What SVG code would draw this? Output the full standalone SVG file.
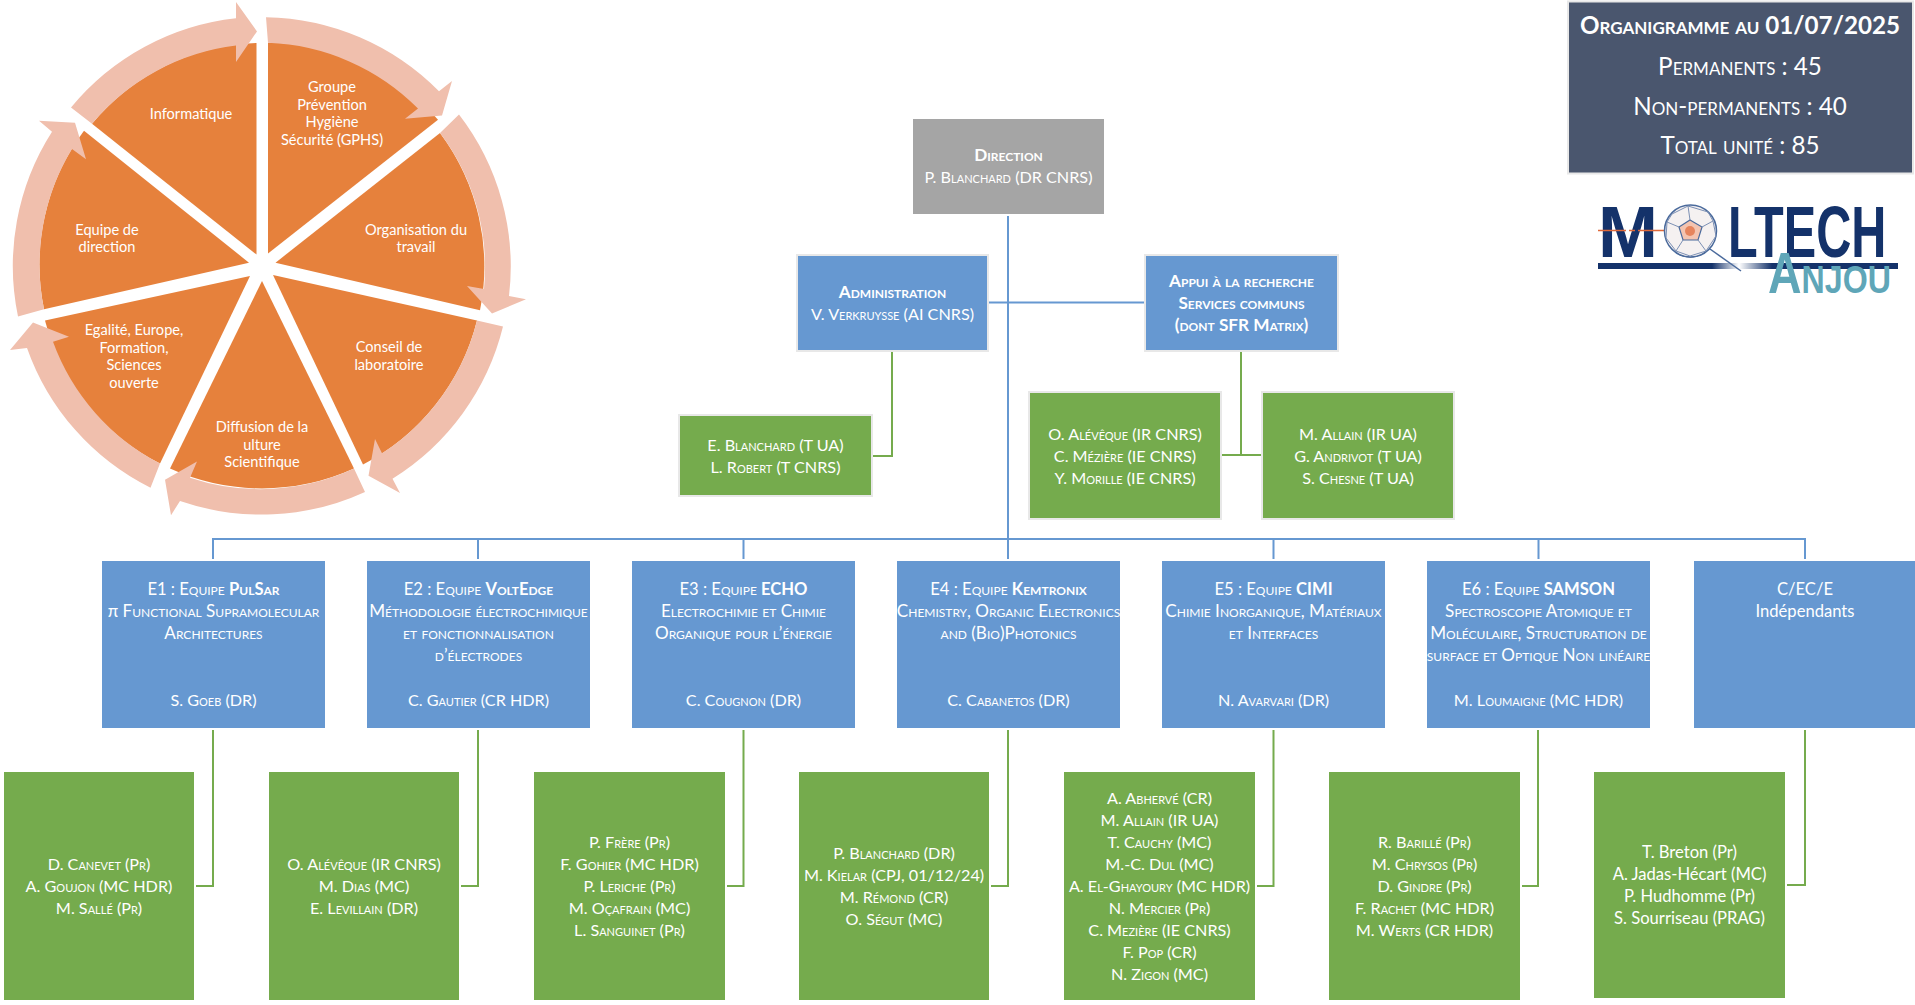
<svg xmlns="http://www.w3.org/2000/svg" width="1915" height="1005" viewBox="0 0 1915 1005">
<defs>
<linearGradient id="bar" x1="0" x2="1" y1="0" y2="0"><stop offset="0" stop-color="#14326a"/><stop offset="0.38" stop-color="#14326a"/><stop offset="0.47" stop-color="#ffffff"/><stop offset="0.58" stop-color="#14326a"/><stop offset="1" stop-color="#14326a"/></linearGradient>
</defs>
<style>
text{font-family:"Lato","Carlito","Open Sans",sans-serif;fill:#fff;text-anchor:middle}
.sc{font-size:16.2px;font-variant:small-caps}
.d{font-size:17.1px}
.h{font-size:16.6px}
.n{font-size:16.6px}
.b{font-weight:700}
.hb{font-weight:700;font-size:17.2px}
.w{font-size:14.6px}
.ring{fill:#f0bfad}
.wedge{fill:#e6813c}
.blue{fill:#6698d1}
.green{fill:#75ab4d}
.bl{stroke:#e8e8e8;stroke-width:2}
.cb{fill:none;stroke:#6698d1;stroke-width:2}
.cg{fill:none;stroke:#75ab4d;stroke-width:2}
.t{font-variant:small-caps;font-size:24.2px}
.lg{font-family:"Liberation Sans",sans-serif;font-weight:700;font-size:72px;fill:#14326a;text-anchor:start}
</style>
<g id="wheel">
<path class="wedge" d="M268 253.500V42.800A223 223 0 0 1 438 119.700Z"/>
<path class="wedge" d="M275.500 262.700L440 132.900A223 223 0 0 1 480 310.300Z"/>
<path class="wedge" d="M273 274.900L477 320.500A223 223 0 0 1 363 464.500Z"/>
<path class="wedge" d="M262 280.900L354 468.600A223 223 0 0 1 170 468.600Z"/>
<path class="wedge" d="M250 275.900L160 463.500A223 223 0 0 1 45 320.500Z"/>
<path class="wedge" d="M249 262.700L44 309.300A223 223 0 0 1 84 130.800Z"/>
<path class="wedge" d="M256.500 254.600L92 123.700A223 223 0 0 1 256.500 43Z"/>
<path class="ring" d="M266 17.200A249 249 0 0 1 439 91.300L452 81.100L442 115.600L405 118.700L418 108.500A223 223 0 0 0 268 42.800Z"/>
<path class="ring" d="M459 114.600A249 249 0 0 1 509 296.100L526 299.200L492 313.400L467 286L484 289A223 223 0 0 0 440 132.900Z"/>
<path class="ring" d="M503 326.600A249 249 0 0 1 392.500 478.700L400 492.900L368.500 475.700L375 439.100L382 453.300A223 223 0 0 0 477 320.500Z"/>
<path class="ring" d="M365 491.900A249 249 0 0 1 180 501L171 515.200L165 479.700L197 461.500L190 477.700A223 223 0 0 0 354 468.600Z"/>
<path class="ring" d="M150.500 487.800A249 249 0 0 1 27 347.900L10 349.900L33 322.500L69 336.700L53 341.800A223 223 0 0 0 160 463.500Z"/>
<path class="ring" d="M18 316.400A249 249 0 0 1 52 131.800L39 120.700L75 122.700L86 159.200L72 149.100A223 223 0 0 0 44 309.300Z"/>
<path class="ring" d="M71 107.500A249 249 0 0 1 236 18.300V2L257 31.400L236 61.900V45.600A223 223 0 0 0 92 123.700Z"/>
<text class="w" x="191" y="119">Informatique</text>
<text class="w"><tspan x="332" y="92">Groupe</tspan><tspan x="332" y="109.500">Prévention</tspan><tspan x="332" y="127">Hygiène</tspan><tspan x="332" y="144.500">Sécurité (GPHS)</tspan></text>
<text class="w"><tspan x="416" y="234.500">Organisation du</tspan><tspan x="416" y="252">travail</tspan></text>
<text class="w"><tspan x="389" y="352">Conseil de</tspan><tspan x="389" y="370">laboratoire</tspan></text>
<text class="w"><tspan x="262" y="432">Diffusion de la</tspan><tspan x="262" y="449.500">ulture</tspan><tspan x="262" y="467">Scientifique</tspan></text>
<text class="w"><tspan x="134" y="335">Egalité, Europe,</tspan><tspan x="134" y="352.500">Formation,</tspan><tspan x="134" y="370">Sciences</tspan><tspan x="134" y="387.500">ouverte</tspan></text>
<text class="w"><tspan x="107" y="234.500">Equipe de</tspan><tspan x="107" y="252">direction</tspan></text>
</g>
<g id="connectors">
<path class="cb" d="M1008 216V559"/>
<path class="cb" d="M989 302.500H1144"/>
<path class="cb" d="M213 559V539H1805V559M478 539V559M743.500 539V559M1273.500 539V559M1538.500 539V559"/>
<path class="cg" d="M892 352V456H873"/>
<path class="cg" d="M1241 352V455M1222 455H1261"/>
<path class="cg" d="M213 730V886H196"/>
<path class="cg" d="M478 730V886H461"/>
<path class="cg" d="M743.500 730V886H727"/>
<path class="cg" d="M1008 730V886H991"/>
<path class="cg" d="M1273.500 730V886H1257"/>
<path class="cg" d="M1538 730V886H1522"/>
<path class="cg" d="M1805 730V885H1787"/>
</g>
<g id="summary">
<rect x="1568" y="1.500" width="345" height="172" fill="#4a566e" class="bl"/>
<text class="t b" x="1740" y="34">Organigramme au 01/07/2025</text>
<text class="t" x="1740" y="75">Permanents : 45</text>
<text class="t" x="1740" y="115">Non-permanents : 40</text>
<text class="t" x="1740" y="154">Total unité : 85</text>
</g>
<g id="logo">
<text class="lg" transform="translate(1598 257)">M</text>
<text class="lg" transform="translate(1665 257) scale(.91 1)">O</text>
<text class="lg" transform="translate(1728 257) scale(.675 1)">LTECH</text>
<path d="M1598 230.500H1676" stroke="#e0693a" stroke-width="1.500" stroke-dasharray="28 3 6 3"/>
<circle cx="1690.500" cy="231" r="26" fill="#f5f1f1" stroke="#4a6a9c" stroke-width="1.500"/>
<path d="M1690 220L1702 227L1698 240L1683 240L1679 227Z" fill="#f4c4b0" stroke="#4a6a9c" stroke-width="1.200"/>
<path d="M1690 220L1688 206M1702 227L1713 221M1698 240L1706 251M1683 240L1676 251M1679 227L1667 222M1688 206L1672 214L1667 222M1688 206L1708 212L1713 221M1713 221L1716 236L1706 251M1706 251L1690 256L1676 251M1676 251L1666 238L1667 222" fill="none" stroke="#7c90b4" stroke-width="1"/>
<circle cx="1690" cy="231" r="5" fill="#e0693a" opacity=".7"/>
<rect x="1598" y="263" width="300" height="6" fill="url(#bar)"/>
<path d="M1710 249L1741 271" stroke="#4a6a9c" stroke-width="1.500"/>
<text transform="translate(1768 293) scale(.815 1)" style="font-family:'Liberation Sans',sans-serif;font-weight:700;font-size:57px;font-variant:small-caps;fill:#5fa6b8;text-anchor:start">Anjou</text>
</g>
<g id="direction"><rect x="913" y="119" width="191" height="95" fill="#a5a5a5"/>
<text class="sc"><tspan class="hb" x="1008.500" y="161">Direction</tspan><tspan x="1008.500" y="183">P. Blanchard (DR CNRS)</tspan></text></g>
<g id="administration"><rect class="blue bl" x="797" y="255" width="191" height="96"/>
<text class="sc"><tspan class="hb" x="892.500" y="298">Administration</tspan><tspan x="892.500" y="320">V. Verkruysse (AI CNRS)</tspan></text></g>
<g id="appui"><rect class="blue bl" x="1145" y="255" width="193" height="96"/>
<text class="sc hb"><tspan x="1241.500" y="287">Appui à la recherche</tspan><tspan x="1241.500" y="309">Services communs</tspan><tspan x="1241.500" y="331">(dont SFR Matrix)</tspan></text></g>
<g id="admin-staff"><rect class="green bl" x="679" y="415" width="193" height="81"/>
<text class="sc"><tspan x="775.500" y="451">E. Blanchard (T UA)</tspan><tspan x="775.500" y="473">L. Robert (T CNRS)</tspan></text></g>
<g id="appui-staff-1"><rect class="green bl" x="1029" y="392" width="192" height="127"/>
<text class="sc"><tspan x="1125" y="440">O. Alévêque (IR CNRS)</tspan><tspan x="1125" y="462">C. Mézière (IE CNRS)</tspan><tspan x="1125" y="484">Y. Morille (IE CNRS)</tspan></text></g>
<g id="appui-staff-2"><rect class="green bl" x="1262" y="392" width="192" height="127"/>
<text class="sc"><tspan x="1358" y="440">M. Allain (IR UA)</tspan><tspan x="1358" y="462">G. Andrivot (T UA)</tspan><tspan x="1358" y="484">S. Chesne (T UA)</tspan></text></g>
<g id="e1"><rect class="blue" x="102" y="561" width="223" height="167"/>
<text class="sc"><tspan class="h" x="213.500" y="595">E1 : Equipe <tspan class="b">PulSar</tspan></tspan><tspan class="d" x="213.500" y="617"><tspan style="font-variant:normal">π</tspan> Functional Supramolecular</tspan><tspan class="d" x="213.500" y="639">Architectures</tspan><tspan x="213.500" y="706">S. Goeb (DR)</tspan></text></g>
<g id="e2"><rect class="blue" x="367" y="561" width="223" height="167"/>
<text class="sc"><tspan class="h" x="478.500" y="595">E2 : Equipe <tspan class="b">VoltEdge</tspan></tspan><tspan class="d" x="478.500" y="617">Méthodologie électrochimique</tspan><tspan class="d" x="478.500" y="639">et fonctionnalisation</tspan><tspan class="d" x="478.500" y="661">d’électrodes</tspan><tspan x="478.500" y="706">C. Gautier (CR HDR)</tspan></text></g>
<g id="e3"><rect class="blue" x="632" y="561" width="223" height="167"/>
<text class="sc"><tspan class="h" x="743.500" y="595">E3 : Equipe <tspan class="b">ECHO</tspan></tspan><tspan class="d" x="743.500" y="617">Electrochimie et Chimie</tspan><tspan class="d" x="743.500" y="639">Organique pour l’énergie</tspan><tspan x="743.500" y="706">C. Cougnon (DR)</tspan></text></g>
<g id="e4"><rect class="blue" x="897" y="561" width="223" height="167"/>
<text class="sc"><tspan class="h" x="1008.500" y="595">E4 : Equipe <tspan class="b">Kemtronix</tspan></tspan><tspan class="d" x="1008.500" y="617">Chemistry, Organic Electronics</tspan><tspan class="d" x="1008.500" y="639">and (Bio)Photonics</tspan><tspan x="1008.500" y="706">C. Cabanetos (DR)</tspan></text></g>
<g id="e5"><rect class="blue" x="1162" y="561" width="223" height="167"/>
<text class="sc"><tspan class="h" x="1273.500" y="595">E5 : Equipe <tspan class="b">CIMI</tspan></tspan><tspan class="d" x="1273.500" y="617">Chimie Inorganique, Matériaux</tspan><tspan class="d" x="1273.500" y="639">et Interfaces</tspan><tspan x="1273.500" y="706">N. Avarvari (DR)</tspan></text></g>
<g id="e6"><rect class="blue" x="1427" y="561" width="223" height="167"/>
<text class="sc"><tspan class="h" x="1538.500" y="595">E6 : Equipe <tspan class="b">SAMSON</tspan></tspan><tspan class="d" x="1538.500" y="617">Spectroscopie Atomique et</tspan><tspan class="d" x="1538.500" y="639">Moléculaire, Structuration de</tspan><tspan class="d" x="1538.500" y="661">surface et Optique Non linéaire</tspan><tspan x="1538.500" y="706">M. Loumaigne (MC HDR)</tspan></text></g>
<g id="cece"><rect class="blue" x="1694" y="561" width="221" height="167"/>
<text class="n"><tspan x="1805" y="595">C/EC/E</tspan><tspan x="1805" y="617">Indépendants</tspan></text></g>
<g id="e1-staff"><rect class="green" x="4" y="772" width="190" height="228"/>
<text class="sc"><tspan x="99" y="870">D. Canevet (Pr)</tspan><tspan x="99" y="892">A. Goujon (MC HDR)</tspan><tspan x="99" y="914">M. Sallé (Pr)</tspan></text></g>
<g id="e2-staff"><rect class="green" x="269" y="772" width="190" height="228"/>
<text class="sc"><tspan x="364" y="870">O. Alévêque (IR CNRS)</tspan><tspan x="364" y="892">M. Dias (MC)</tspan><tspan x="364" y="914">E. Levillain (DR)</tspan></text></g>
<g id="e3-staff"><rect class="green" x="534" y="772" width="191" height="228"/>
<text class="sc"><tspan x="629.500" y="848">P. Frère (Pr)</tspan><tspan x="629.500" y="870">F. Gohier (MC HDR)</tspan><tspan x="629.500" y="892">P. Leriche (Pr)</tspan><tspan x="629.500" y="914">M. Oçafrain (MC)</tspan><tspan x="629.500" y="936">L. Sanguinet (Pr)</tspan></text></g>
<g id="e4-staff"><rect class="green" x="799" y="772" width="190" height="228"/>
<text class="sc"><tspan x="894" y="859">P. Blanchard (DR)</tspan><tspan x="894" y="881">M. Kielar (CPJ, 01/12/24)</tspan><tspan x="894" y="903">M. Rémond (CR)</tspan><tspan x="894" y="925">O. Ségut (MC)</tspan></text></g>
<g id="e5-staff"><rect class="green" x="1064" y="772" width="191" height="228"/>
<text class="sc"><tspan x="1159.500" y="804">A. Abhervé (CR)</tspan><tspan x="1159.500" y="826">M. Allain (IR UA)</tspan><tspan x="1159.500" y="848">T. Cauchy (MC)</tspan><tspan x="1159.500" y="870">M.-C. Dul (MC)</tspan><tspan x="1159.500" y="892">A. El-Ghayoury (MC HDR)</tspan><tspan x="1159.500" y="914">N. Mercier (Pr)</tspan><tspan x="1159.500" y="936">C. Mezière (IE CNRS)</tspan><tspan x="1159.500" y="958">F. Pop (CR)</tspan><tspan x="1159.500" y="980">N. Zigon (MC)</tspan></text></g>
<g id="e6-staff"><rect class="green" x="1329" y="772" width="191" height="228"/>
<text class="sc"><tspan x="1424.500" y="848">R. Barillé (Pr)</tspan><tspan x="1424.500" y="870">M. Chrysos (Pr)</tspan><tspan x="1424.500" y="892">D. Gindre (Pr)</tspan><tspan x="1424.500" y="914">F. Rachet (MC HDR)</tspan><tspan x="1424.500" y="936">M. Werts (CR HDR)</tspan></text></g>
<g id="cece-staff"><rect class="green" x="1594" y="772" width="191" height="226"/>
<text class="n"><tspan x="1689.500" y="858">T. Breton (Pr)</tspan><tspan x="1689.500" y="880">A. Jadas-Hécart (MC)</tspan><tspan x="1689.500" y="902">P. Hudhomme (Pr)</tspan><tspan x="1689.500" y="924">S. Sourriseau (PRAG)</tspan></text></g>
</svg>
